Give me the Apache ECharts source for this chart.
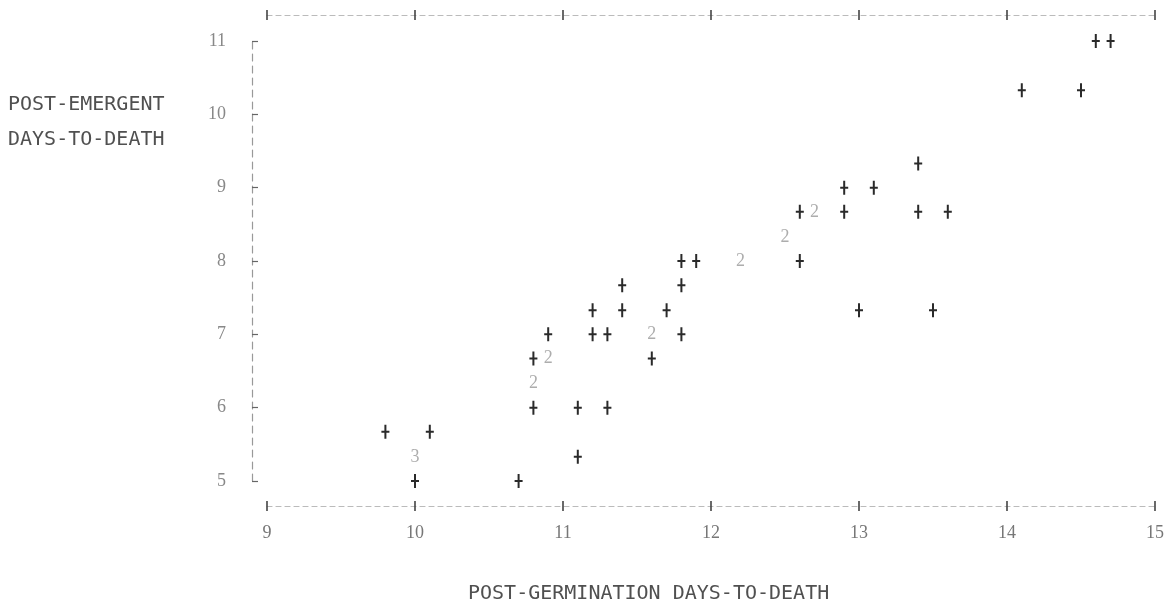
<!DOCTYPE html>
<html>
<head>
<meta charset="utf-8">
<script src="https://cdn.jsdelivr.net/npm/echarts@6/dist/echarts.min.js"></script>
<style>
html,body{margin:0;padding:0;background:#fff;}
#c{width:1169px;height:609px;}
</style>
</head>
<body>
<div id="c"></div>
<script>
// Axis ticks
const xTicks = [9, 10, 11, 12, 13, 14, 15];
const yTicks = [5, 6, 7, 8, 9, 10, 11];

// Single observations ("+")
const pointX = [14.6, 14.7, 14.1, 14.5, 13.4, 12.9, 13.1, 12.6, 12.9, 13.4, 13.6, 11.8, 11.9, 12.6, 11.4, 11.8, 11.2, 11.4, 11.7, 13.0, 13.5, 10.9, 11.2, 11.3, 11.8, 10.8, 11.6, 10.8, 11.1, 11.3, 9.8, 10.1, 11.1, 10.0, 10.7];
const pointY = [11, 11, 10.33, 10.33, 9.33, 9, 9, 8.67, 8.67, 8.67, 8.67, 8, 8, 8, 7.67, 7.67, 7.33, 7.33, 7.33, 7.33, 7.33, 7, 7, 7, 7, 6.67, 6.67, 6, 6, 6, 5.67, 5.67, 5.33, 5, 5];

// Multiple observations (printed as a count)
const multiX = [12.7, 12.5, 12.2, 11.6, 10.9, 10.8, 10.0];
const multiY = [8.67, 8.33, 8, 7, 6.67, 6.33, 5.33];
const multiN = [2, 2, 2, 2, 2, 2, 3];

const singles = pointX.map((x, i) => [x, pointY[i]]);
const multiples = multiX.map((x, i) => [x, multiY[i], multiN[i]]);

const plusPath = 'path://M3,0H5V6H8V8H5V14H3V8H0V6H3Z';
const numFont = 'Liberation Serif';

function xAx(pos, offset, inside, showLine, showLabel) {
  return {
    type: 'value', position: pos, offset: offset,
    min: xTicks[0], max: xTicks[xTicks.length - 1], interval: 1,
    splitLine: {show: false},
    axisLine: {show: showLine, lineStyle: {color: '#bbb', width: 1.2, type: [5, 4]}},
    axisTick: {show: true, inside: inside, length: 5, lineStyle: {color: '#444', width: 1.6}},
    axisLabel: {show: showLabel, margin: 18, color: '#777', fontFamily: numFont, fontSize: 18,
      formatter: v => xTicks.includes(v) ? String(v) : ''}
  };
}

const chart = echarts.init(document.getElementById('c'));
chart.setOption({
  backgroundColor: '#fff',
  animation: false,
  grid: {left: 267, right: 14, top: 41, bottom: 128},
  xAxis: [
    xAx('bottom', 25, false, true, true),
    xAx('bottom', 25, true, false, false),
    xAx('top', 26, false, true, false),
    xAx('top', 26, true, false, false)
  ],
  yAxis: {
    type: 'value', offset: 15,
    min: yTicks[0], max: yTicks[yTicks.length - 1], interval: 1,
    splitLine: {show: false},
    axisLine: {show: true, lineStyle: {color: '#999', width: 1.2, type: [7, 5]}},
    axisTick: {show: true, inside: true, length: 6, lineStyle: {color: '#666', width: 1.2}},
    axisLabel: {margin: 26, color: '#888', fontFamily: numFont, fontSize: 18,
      formatter: v => yTicks.includes(v) ? String(v) : ''}
  },
  graphic: [
    {type: 'text', left: 8, top: 95, style: {text: 'POST-EMERGENT', font: '20px "DejaVu Sans Mono"', fill: '#505050'}},
    {type: 'text', left: 8, top: 130, style: {text: 'DAYS-TO-DEATH', font: '20px "DejaVu Sans Mono"', fill: '#505050'}},
    {type: 'text', left: 468, top: 584, style: {text: 'POST-GERMINATION DAYS-TO-DEATH', font: '20px "DejaVu Sans Mono"', fill: '#505050'}}
  ],
  series: [
    {
      type: 'scatter', xAxisIndex: 0, data: singles,
      symbol: plusPath, symbolSize: [8, 14],
      itemStyle: {color: '#2a2a2a', opacity: 1}
    },
    {
      type: 'scatter', xAxisIndex: 0, data: multiples,
      symbol: 'circle', symbolSize: 2,
      itemStyle: {color: 'rgba(255,255,255,0)'},
      label: {show: true, position: 'inside', formatter: p => String(p.value[2]),
        color: '#999', fontFamily: numFont, fontSize: 18}
    }
  ]
});
</script>
</body>
</html>
